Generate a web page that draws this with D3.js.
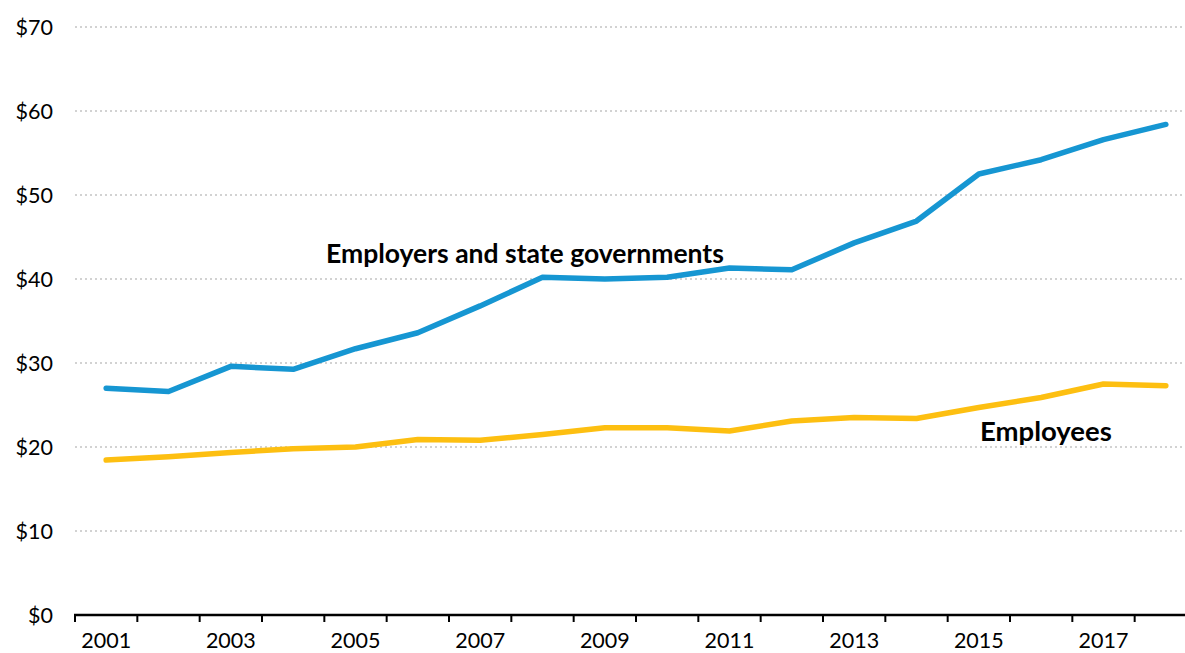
<!DOCTYPE html>
<html>
<head>
<meta charset="utf-8">
<script src="https://cdn.jsdelivr.net/npm/d3@7"></script>
<style>
  body { margin: 0; background: #fff; }
  svg { display: block; font-family: Lato, "Open Sans", sans-serif; }
</style>
</head>
<body>
<div id="app"></div>
<script>
// data
let years = [2001, 2002, 2003, 2004, 2005, 2006, 2007, 2008, 2009, 2010, 2011, 2012, 2013, 2014, 2015, 2016, 2017, 2018]
let employers = [27.0, 26.6, 29.6, 29.25, 31.7, 33.6, 36.8, 40.2, 40.0, 40.2, 41.3, 41.1, 44.3, 46.9, 52.5, 54.2, 56.6, 58.4]
let employees = [18.45, 18.85, 19.35, 19.8, 20.0, 20.9, 20.8, 21.5, 22.3, 22.3, 21.9, 23.1, 23.5, 23.4, 24.7, 25.9, 27.5, 27.3]
let yTicks = [0, 10, 20, 30, 40, 50, 60, 70]

let width = 1185
let height = 653

let svg = d3.select("#app").append("svg")
    .attr("width", width)
    .attr("height", height)

// band runs past the right edge, like the original
let x = d3.scaleBand()
    .domain(years)
    .range([75, 1197])

let y = d3.scaleLinear()
    .domain([0, 70])
    .range([615, 27])

// gridlines
svg.append("g")
    .selectAll("line")
    .data(yTicks.filter(d => d > 0))
    .enter().append("line")
    .attr("x1", 75)
    .attr("x2", width)
    .attr("y1", d => y(d))
    .attr("y2", d => y(d))
    .attr("stroke", "#d2d2d2")
    .attr("stroke-width", 2)
    .attr("stroke-dasharray", "2,3")

// y labels
svg.append("g")
    .selectAll("text")
    .data(yTicks)
    .enter().append("text")
    .attr("x", 53)
    .attr("y", d => y(d))
    .attr("dy", "0.35em")
    .attr("text-anchor", "end")
    .attr("font-size", 21.5)
    .attr("fill", "#000")
    .text(d => "$" + d)

// x axis
let xAxis = svg.append("g")
xAxis.append("line")
    .attr("x1", 74)
    .attr("x2", width)
    .attr("y1", y(0))
    .attr("y2", y(0))
    .attr("stroke", "#000")
    .attr("stroke-width", 2.5)

xAxis.selectAll(".tick")
    .data(years)
    .enter().append("line")
    .attr("class", "tick")
    .attr("x1", d => x(d))
    .attr("x2", d => x(d))
    .attr("y1", y(0))
    .attr("y2", y(0) + 7)
    .attr("stroke", "#000")
    .attr("stroke-width", 2)

xAxis.selectAll("text")
    .data(years.filter(d => d % 2 === 1))
    .enter().append("text")
    .attr("x", d => x(d) + x.bandwidth() / 2)
    .attr("y", 648)
    .attr("text-anchor", "middle")
    .attr("font-size", 21.5)
    .attr("fill", "#000")
    .text(d => d)

// lines
let line = d3.line()
    .x((d, i) => x(years[i]) + x.bandwidth() / 2)
    .y(d => y(d))

let series = [
    {name: "Employers and state governments", values: employers, color: "#1696d2"},
    {name: "Employees", values: employees, color: "#fdbf11"}
]

svg.append("g")
    .selectAll("path")
    .data(series)
    .enter().append("path")
    .attr("d", d => line(d.values))
    .attr("fill", "none")
    .attr("stroke", d => d.color)
    .attr("stroke-width", 5.5)
    .attr("stroke-linecap", "round")
    .attr("stroke-linejoin", "round")

// direct labels
svg.append("text")
    .attr("x", 326)
    .attr("y", 263)
    .attr("font-size", 26.5)
    .attr("font-weight", "bold")
    .text(series[0].name)

svg.append("text")
    .attr("x", 980)
    .attr("y", 441)
    .attr("font-size", 27.5)
    .attr("font-weight", "bold")
    .text(series[1].name)
</script>
</body>
</html>
